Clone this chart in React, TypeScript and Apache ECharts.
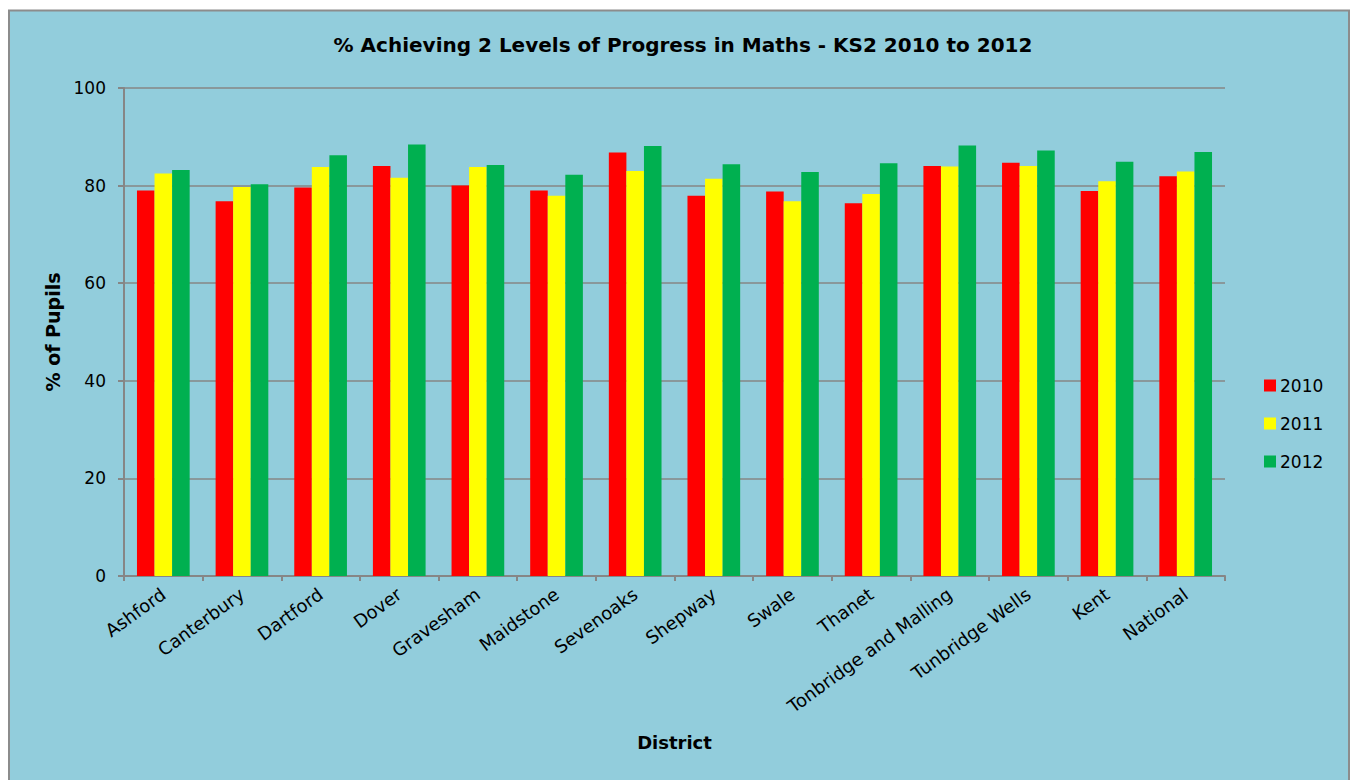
import React, { useEffect, useRef } from "react";
import * as echarts from "echarts";

const categories = [
  "Ashford", "Canterbury", "Dartford", "Dover", "Gravesham", "Maidstone", "Sevenoaks",
  "Shepway", "Swale", "Thanet", "Tonbridge and Malling", "Tunbridge Wells", "Kent", "National",
];
const values2010 = [79.0, 76.8, 79.6, 84.0, 80.0, 79.0, 86.8, 77.9, 78.8, 76.4, 84.0, 84.7, 78.9, 81.9];
const values2011 = [82.5, 79.7, 83.8, 81.6, 83.8, 77.9, 83.0, 81.4, 76.8, 78.3, 83.9, 84.0, 80.9, 82.9];
const values2012 = [83.2, 80.3, 86.2, 88.4, 84.2, 82.2, 88.1, 84.4, 82.8, 84.6, 88.2, 87.2, 84.9, 86.9];
const yTicks = { min: 0, max: 100, interval: 20 };

const FONT = "DejaVu Sans";

export default function App() {
  const ref = useRef<HTMLDivElement>(null);
  useEffect(() => {
    if (!ref.current) return;
    const chart = echarts.init(ref.current, undefined, { renderer: "svg" });
    chart.setOption({
      animation: false,
      backgroundColor: "#ffffff",
      textStyle: { fontFamily: FONT, color: "#000" },
      graphic: [
        {
          type: "rect",
          z: -10,
          silent: true,
          shape: { x: 9, y: 10.5, width: 1340, height: 790 },
          style: { fill: "#92CDDC", stroke: "#8c8c8c", lineWidth: 2 },
        },
      ],
      title: {
        text: "% Achieving 2 Levels of Progress in Maths - KS2 2010 to 2012",
        left: 678,
        textAlign: "center",
        top: 30,
        textStyle: { fontFamily: FONT, fontSize: 20, fontWeight: "bold", color: "#000" },
      },
      legend: {
        orient: "vertical",
        left: 1259,
        top: 372,
        itemWidth: 12,
        itemHeight: 12,
        itemGap: 21,
        icon: "rect",
        textStyle: { fontFamily: FONT, fontSize: 17, color: "#000", padding: [0, 0, 0, -1] },
        data: ["2010", "2011", "2012"],
      },
      grid: { left: 124, right: 131, top: 88, bottom: 204, containLabel: false },
      xAxis: {
        type: "category",
        data: categories,
        name: "District",
        nameLocation: "middle",
        nameGap: 157,
        nameTextStyle: { fontFamily: FONT, fontSize: 18, fontWeight: "bold", color: "#000" },
        axisLine: { lineStyle: { color: "#868686", width: 2 } },
        axisTick: { show: true, alignWithLabel: false, length: 5, lineStyle: { color: "#868686", width: 2 } },
        axisLabel: {
          rotate: 36,
          interval: 0,
          margin: 16,
          fontFamily: FONT,
          fontSize: 18,
          color: "#000",
        },
      },
      yAxis: {
        type: "value",
        min: yTicks.min,
        max: yTicks.max,
        interval: yTicks.interval,
        name: "% of Pupils",
        nameLocation: "middle",
        nameGap: 60,
        nameRotate: 90,
        nameTextStyle: { fontFamily: FONT, fontSize: 19, fontWeight: "bold", color: "#000" },
        axisLine: { show: true, lineStyle: { color: "#868686", width: 2 } },
        axisTick: { show: true, length: 6, lineStyle: { color: "#868686", width: 2 } },
        axisLabel: { margin: 18, fontFamily: FONT, fontSize: 17, color: "#000" },
        splitLine: { show: true, lineStyle: { color: "#868686", width: 1.5 } },
      },
      series: [
        { name: "2010", type: "bar", data: values2010, itemStyle: { color: "#FF0000" }, barGap: "0%", barCategoryGap: "33%" },
        { name: "2011", type: "bar", data: values2011, itemStyle: { color: "#FFFF00" }, barGap: "0%", barCategoryGap: "33%" },
        { name: "2012", type: "bar", data: values2012, itemStyle: { color: "#00B050" }, barGap: "0%", barCategoryGap: "33%" },
      ],
    });
    return () => chart.dispose();
  }, []);
  return (
    <div
      ref={ref}
      style={{ position: "absolute", left: 0, top: 0, width: 1356, height: 780 }}
    />
  );
}
